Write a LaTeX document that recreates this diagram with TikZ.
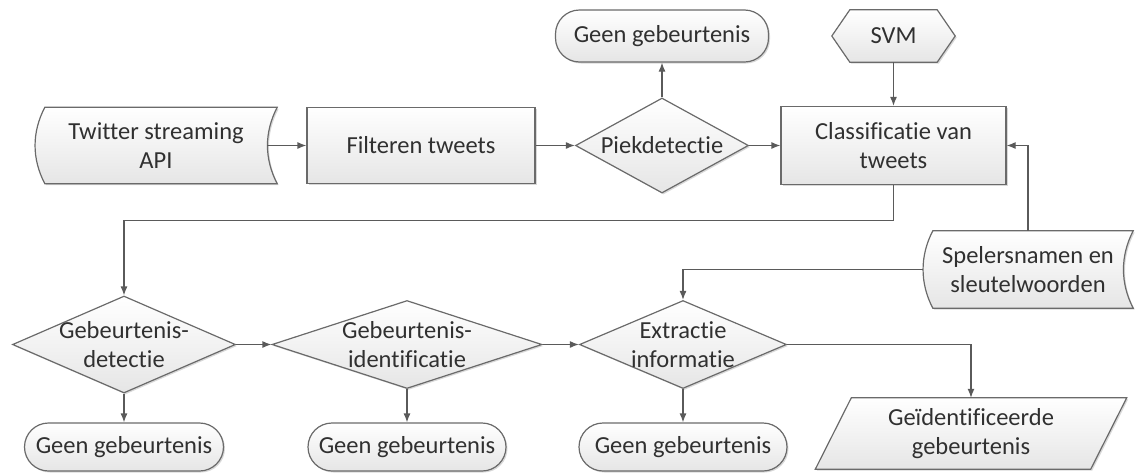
\documentclass[tikz,border=0pt]{standalone}
\usepackage{fontspec}
\setmainfont[Ligatures=NoCommon]{Carlito}
\usetikzlibrary{shapes.geometric,arrows.meta,calc,shadows}
\pgfdeclarelayer{bg}
\pgfsetlayers{bg,main}
\definecolor{edge}{HTML}{6A6A6A}
\definecolor{linec}{HTML}{5A5A5A}
\definecolor{txtc}{HTML}{303030}
\begin{document}
\begin{tikzpicture}[x=1pt,y=-1pt,
  base/.style={font=\fontsize{24.5}{29}\selectfont, text=txtc, align=center, inner sep=0pt},
  shaded/.style={draw=edge, line width=1.2pt, top color=white, bottom color=black!10,
    drop shadow={shadow xshift=1.5pt, shadow yshift=-1.5pt, fill=black!30, opacity=0.5}},
  box/.style={base, shaded, rectangle},
  term/.style={base, shaded, rectangle, rounded corners=24pt},
  dia/.style={shaded, diamond, inner sep=0pt},
  arr/.style={draw=linec, line width=1.2pt, -{Latex[length=9pt,width=7pt]}}
]
\useasboundingbox (0,0) rectangle (1135,472);

% top row
\node[base, minimum width=242, minimum height=76] (tw) at (156,145.5) {Twitter streaming\\API};
\node[box, minimum width=228, minimum height=76] (filt) at (421,145.5) {Filteren tweets};
\node[dia, minimum width=173, minimum height=95, label={[base]center:Piekdetectie}] (pk) at (662,145.5) {};
\node[term, minimum width=213, minimum height=52] (g0) at (662,36) {Geen gebeurtenis};
\node[base, minimum width=123, minimum height=52] (svm) at (893.5,36) {SVM};
\node[box, minimum width=225, minimum height=78] (cl) at (893.5,145.5) {Classificatie van\\tweets};
\node[base, minimum width=210, minimum height=77] (sp) at (1028,269.5) {Spelersnamen en\\sleutelwoorden};

% bottom row
\node[dia, minimum width=223, minimum height=97, label={[base]center:{Gebeurtenis-\\detectie}}] (d1) at (124,344.5) {};
\node[dia, minimum width=270, minimum height=88, label={[base]center:{Gebeurtenis-\\identificatie}}] (d2) at (407,344.5) {};
\node[dia, minimum width=207, minimum height=88, label={[base]center:{Extractie\\informatie}}] (d3) at (683,344.5) {};
\node[term, minimum width=199, minimum height=48] (g1) at (124,447) {Geen gebeurtenis};
\node[term, minimum width=198, minimum height=48] (g2) at (407,447) {Geen gebeurtenis};
\node[term, minimum width=208, minimum height=48] (g3) at (683,447) {Geen gebeurtenis};
\node[base, minimum width=275, minimum height=71] (par) at (971,433.5) {Geïdentificeerde\\gebeurtenis};

% custom outlines
\begin{pgfonlayer}{bg}
\path[shaded] ($(tw.north west)+(10,0)$) -- (tw.north east)
  .. controls ($(tw.north east)+(-13,25)$) and ($(tw.south east)+(-13,-25)$) .. (tw.south east)
  -- ($(tw.south west)+(10,0)$)
  .. controls ($(tw.south west)+(-3,-25)$) and ($(tw.north west)+(-3,25)$) .. cycle;
\path[shaded] ($(sp.north west)+(10,0)$) -- (sp.north east)
  .. controls ($(sp.north east)+(-13,25)$) and ($(sp.south east)+(-13,-25)$) .. (sp.south east)
  -- ($(sp.south west)+(10,0)$)
  .. controls ($(sp.south west)+(-3,-25)$) and ($(sp.north west)+(-3,25)$) .. cycle;
\path[shaded] ($(svm.north west)+(18,0)$) -- ($(svm.north east)+(-18,0)$) -- (svm.east)
  -- ($(svm.south east)+(-18,0)$) -- ($(svm.south west)+(18,0)$) -- (svm.west) -- cycle;
\path[shaded] ($(par.north west)+(18,0)$) -- ($(par.north east)+(18,0)$)
  -- ($(par.south east)+(-18,0)$) -- ($(par.south west)+(-18,0)$) -- cycle;
\end{pgfonlayer}

% connectors
\draw[arr] ($(tw.east)+(-10,0)$) -- (filt.west);
\draw[arr] (filt.east) -- (pk.west);
\draw[arr] (pk.east) -- (cl.west);
\draw[arr] (pk.north) -- (g0.south);
\draw[arr] (svm.south) -- (cl.north);
\draw[arr] (sp.north) |- (cl.east);
\draw[arr] (cl.south) -- ++(0,35) -| (d1.north);
\draw[arr] (sp.west) -| (d3.north);
\draw[arr] (d1.east) -- (d2.west);
\draw[arr] (d2.east) -- (d3.west);
\draw[arr] (d1.south) -- (g1.north);
\draw[arr] (d2.south) -- (g2.north);
\draw[arr] (d3.south) -- (g3.north);
\draw[arr] (d3.east) -| (par.north);
\end{tikzpicture}
\end{document}
